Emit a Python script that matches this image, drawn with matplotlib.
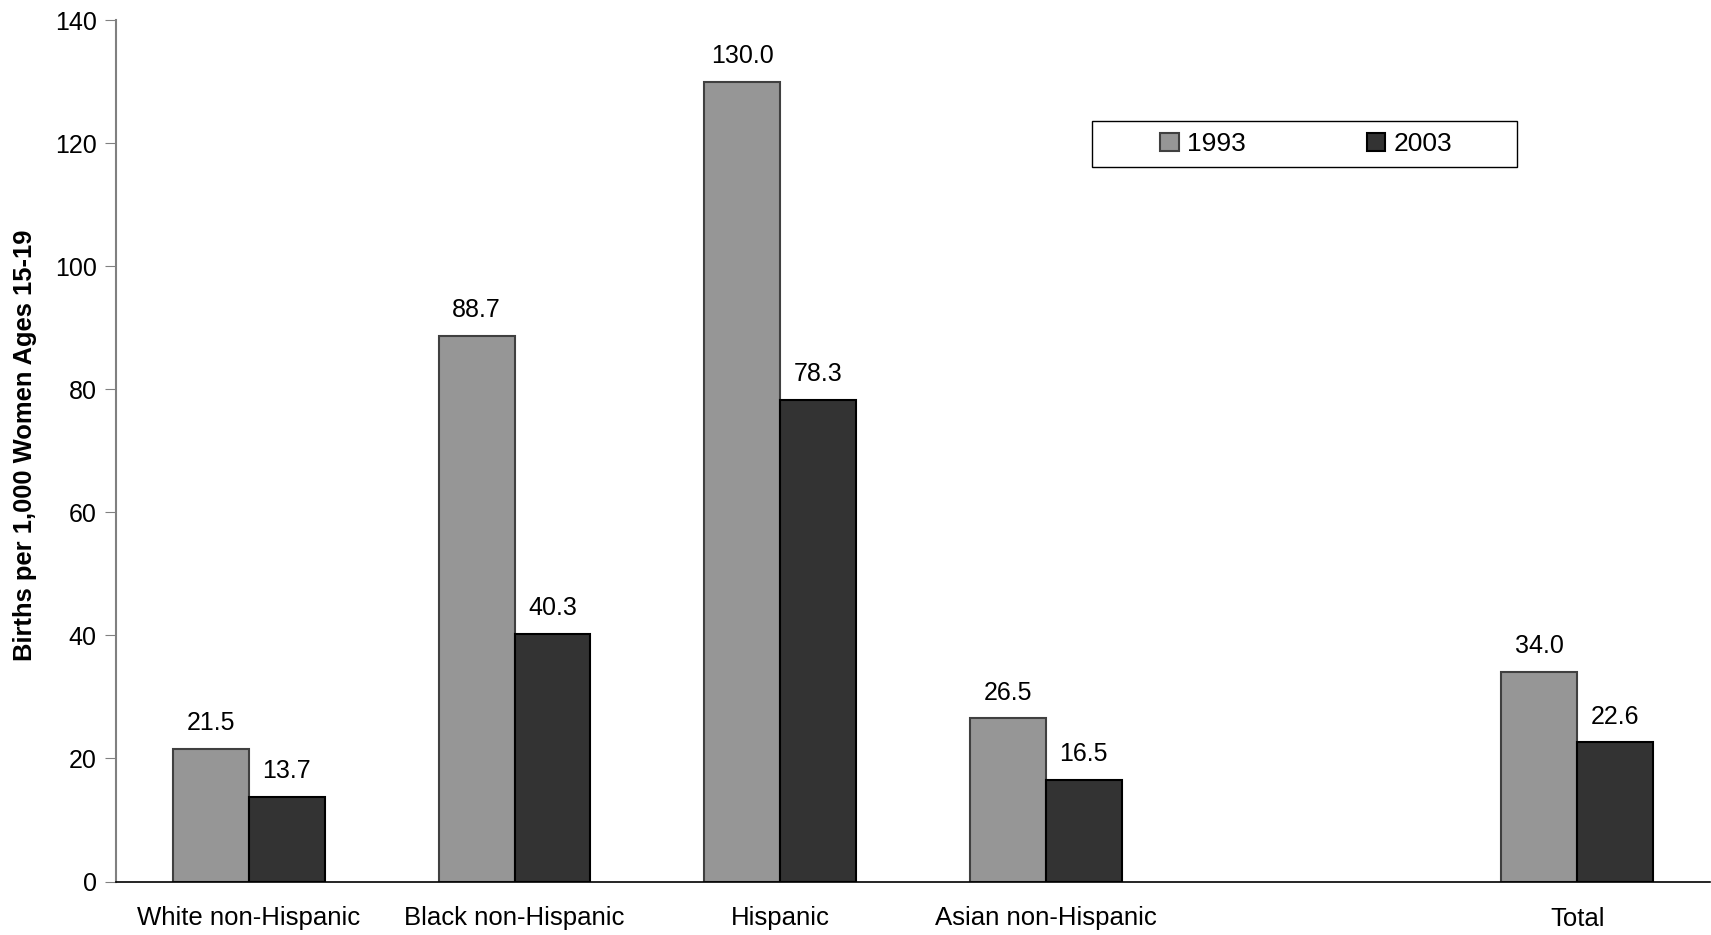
import numpy as np
import matplotlib.pyplot as plt
from matplotlib.patches import Rectangle

plt.rcParams['font.family'] = ['Liberation Sans', 'DejaVu Sans']

categories = ["White non-Hispanic", "Black non-Hispanic", "Hispanic",
              "Asian non-Hispanic", "", "Total"]
rate_1993 = [21.5, 88.7, 130.0, 26.5, None, 34.0]
rate_2003 = [13.7, 40.3, 78.3, 16.5, None, 22.6]
years = ["1993", "2003"]

W, H, DPI = 1711, 935, 100
fig = plt.figure(figsize=(W / DPI, H / DPI), dpi=DPI)
ax = fig.add_axes([116 / W, 1 - 881.5 / H, (1710 - 116) / W, (881.5 - 20) / H])

x = np.arange(len(categories))
bw = 0.286

def draw(vals, offset, face, edge, label):
    xs = [xi + offset for xi, v in zip(x, vals) if v is not None]
    vs = [v for v in vals if v is not None]
    bars = ax.bar(xs, vs, bw, color=face, edgecolor=edge, linewidth=1.5, label=label)
    for b, v in zip(bars, vs):
        ax.annotate(f"{v:.1f}", (b.get_x() + b.get_width() / 2, v),
                    xytext=(0, 10), textcoords="offset points",
                    ha="center", va="bottom", fontsize=18)

draw(rate_1993, -bw / 2, "#969696", "#404040", years[0])
draw(rate_2003, bw / 2, "#333333", "#000000", years[1])

ax.set_xlim(-0.5, len(categories) - 0.5)
ax.set_ylim(0, 140)
ax.set_yticks(range(0, 141, 20))
ax.set_xticks(x)
ax.set_xticklabels(categories, fontsize=18.5)
ax.tick_params(axis="x", length=0, pad=18)
ax.tick_params(axis="y", labelsize=18, length=8, direction="out", color="#808080", pad=6)

for s in ("top", "right"):
    ax.spines[s].set_visible(False)
ax.spines["left"].set_color("#808080")
ax.spines["left"].set_linewidth(1.5)
ax.spines["bottom"].set_color("black")
ax.spines["bottom"].set_linewidth(1.2)

fig.text(25 / W, 1 - 445 / H, "Births per 1,000 Women Ages 15-19", rotation=90,
         ha="center", va="center", fontsize=18.4, fontweight="bold")

# legend box drawn separately so the entries can sit in the middle of it
fig.patches.append(Rectangle((1092 / W, 1 - 167 / H), 425 / W, 46 / H,
                             transform=fig.transFigure, facecolor="white",
                             edgecolor="black", linewidth=1.0, zorder=3))
leg = fig.legend(*ax.get_legend_handles_labels(), ncol=2, loc="center",
                 bbox_to_anchor=(1306 / W, 1 - 144 / H),
                 fontsize=19, frameon=False, handlelength=0.7, handleheight=0.7,
                 handletextpad=0.3, columnspacing=4.6)
leg.set_zorder(4)

fig.savefig("out.png", dpi=DPI)
